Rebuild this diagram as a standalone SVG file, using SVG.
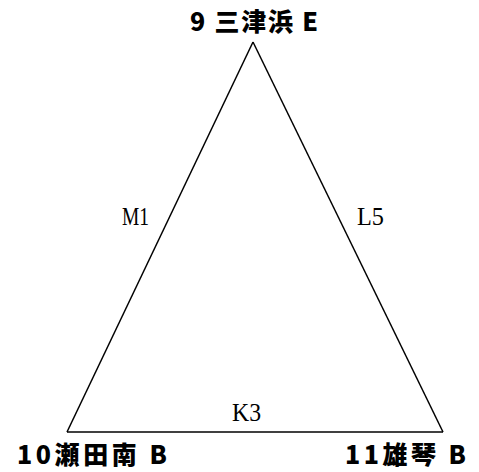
<svg xmlns="http://www.w3.org/2000/svg" width="479" height="472" viewBox="0 0 479 472">
<style>
.n{font-family:"Noto Sans CJK JP","Liberation Sans",sans-serif;font-weight:900;font-size:25px;fill:#000}
.e{font-family:"Liberation Serif","Noto Serif",serif;font-size:25px;fill:#000}
.l{stroke:#000;stroke-width:1.5;fill:none}
</style>
<rect width="479" height="472" fill="#fff"/>
<g id="connectors">
<line class="l" x1="253" y1="42" x2="67" y2="432"/>
<line class="l" x1="253" y1="42" x2="443" y2="432"/>
<line class="l" x1="67" y1="432" x2="443" y2="432"/>
<text class="e" x="122" y="225" textLength="27" lengthAdjust="spacingAndGlyphs">M1</text>
<text class="e" x="357" y="225" textLength="27" lengthAdjust="spacingAndGlyphs">L5</text>
<text class="e" x="232" y="421" textLength="29" lengthAdjust="spacingAndGlyphs">K3</text>
</g>
<g id="n9"><text class="n" x="190" y="31" textLength="128" lengthAdjust="spacing">9 三津浜 E</text></g>
<g id="n10"><text class="n" x="17" y="464" textLength="150" lengthAdjust="spacing">10瀬田南 B</text></g>
<g id="n11"><text class="n" x="345" y="464" textLength="121" lengthAdjust="spacing">11雄琴 B</text></g>
</svg>
